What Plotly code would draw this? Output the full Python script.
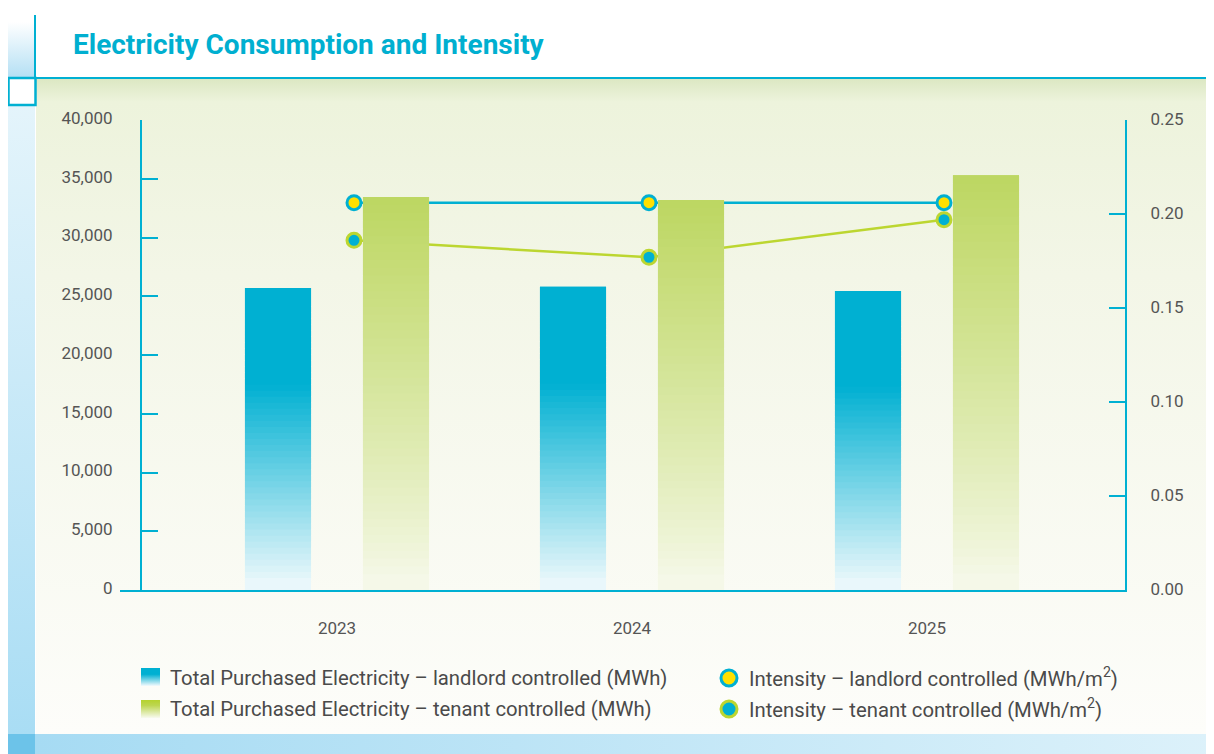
import base64

import plotly.graph_objects as go


# the page puts the figure 8px in from the top-left corner
OFF = 8
W, H = 1214 - OFF, 754 - OFF

years = ["2023", "2024", "2025"]
landlord_mwh = [25700, 25800, 25450]
tenant_mwh = [33450, 33200, 35300]
landlord_intensity = [0.206, 0.206, 0.206]
tenant_intensity = [0.186, 0.177, 0.197]

CYAN = "#00b0d2"
GREEN = "#bcd65f"
LINE_GREEN = "#bcd630"
YELLOW = "#ffe000"
TEXT = "#4a4a4a"
LEVELS = 50


def px(x):
    return (x - OFF) / W


def py(y):
    return 1 - (y - OFF) / H


def hex_rgb(c):
    c = c.lstrip("#")
    return [int(c[i:i + 2], 16) for i in (0, 2, 4)]


def mix(c_low, c_high, s):
    a, b = hex_rgb(c_low), hex_rgb(c_high)
    r = [round(a[i] + (b[i] - a[i]) * s) for i in range(3)]
    return f"rgb({r[0]},{r[1]},{r[2]})"


def gradient_uri(stops, horizontal=False):
    x2, y2 = ("1", "0") if horizontal else ("0", "1")
    stop_tags = "".join(f'<stop offset="{o}" stop-color="{c}"/>' for o, c in stops)
    svg = (
        '<svg xmlns="http://www.w3.org/2000/svg" width="100" height="100" '
        'viewBox="0 0 100 100" preserveAspectRatio="none">'
        f'<defs><linearGradient id="g" x1="0" y1="0" x2="{x2}" y2="{y2}">{stop_tags}'
        '</linearGradient></defs><rect width="100" height="100" fill="url(#g)"/></svg>'
    )
    return "data:image/svg+xml;base64," + base64.b64encode(svg.encode()).decode()


def bg_image(uri, x0, y0, x1, y1):
    return dict(
        source=uri, xref="paper", yref="paper", x=px(x0), y=py(y0),
        sizex=(x1 - x0) / W, sizey=(y1 - y0) / H, sizing="stretch",
        xanchor="left", yanchor="top", layer="below",
    )


fig = go.Figure()

# intensity lines (base subplot, drawn under the bars)
fig.add_trace(go.Scatter(
    x=years, y=tenant_intensity, mode="lines+markers",
    line=dict(color=LINE_GREEN, width=2.5),
    marker=dict(size=14, color=CYAN, line=dict(color=LINE_GREEN, width=3)),
    hoverinfo="skip", showlegend=False, xaxis="x", yaxis="y",
))
fig.add_trace(go.Scatter(
    x=years, y=landlord_intensity, mode="lines+markers",
    line=dict(color=CYAN, width=2.5),
    marker=dict(size=14, color=YELLOW, line=dict(color=CYAN, width=3)),
    hoverinfo="skip", showlegend=False, xaxis="x", yaxis="y",
))

# gradient bars: bands drawn from the top down, each one overlapping the band
# above it so no seams show; lighter towards the bottom
for k in range(LEVELS - 1, -1, -1):
    t = (k + 0.5) / LEVELS
    s_land = min(1.0, 0.04 + 1.45 * t)
    s_ten = min(1.0, 0.03 + 0.97 * t ** 0.85)
    bands = 1 if k == LEVELS - 1 else 2
    fig.add_trace(go.Bar(
        x=years, y=[v * bands / LEVELS for v in landlord_mwh],
        base=[v * k / LEVELS for v in landlord_mwh], offsetgroup="landlord",
        marker=dict(color=mix("#f6fbfd", CYAN, s_land), line=dict(width=0)),
        hoverinfo="skip", showlegend=False, xaxis="x2", yaxis="y2",
    ))
    fig.add_trace(go.Bar(
        x=years, y=[v * bands / LEVELS for v in tenant_mwh],
        base=[v * k / LEVELS for v in tenant_mwh], offsetgroup="tenant",
        marker=dict(color=mix("#f8faef", GREEN, s_ten), line=dict(width=0)),
        hoverinfo="skip", showlegend=False, xaxis="x2", yaxis="y2",
    ))

x_lo, x_hi = -0.7356, 2.6712
shift = 0.0576
x_dom = [px(120), px(1125)]
y_dom = [py(590), py(120)]

tick_font = dict(family="Roboto", size=17, color="#555555")
axis_common = dict(
    showgrid=False, zeroline=False, showline=True, linecolor=CYAN, linewidth=2,
    ticks="inside", ticklen=16, tickwidth=2, tickcolor=CYAN, tickfont=tick_font,
)

shapes = [
    dict(type="line", xref="paper", yref="paper", x0=px(35), x1=px(35), y0=py(15), y1=py(78),
         line=dict(color=CYAN, width=2)),
    dict(type="line", xref="paper", yref="paper", x0=px(35), x1=1, y0=py(78), y1=py(78),
         line=dict(color=CYAN, width=2)),
    dict(type="rect", xref="paper", yref="paper", x0=px(8.5), x1=px(35.5), y0=py(105), y1=py(78),
         fillcolor="white", line=dict(color=CYAN, width=2.5), layer="above"),
    dict(type="rect", xref="paper", yref="paper", x0=px(8), x1=px(35), y0=0, y1=py(734),
         fillcolor="#6cc3e9", line=dict(width=0), layer="below"),
    dict(type="circle", xref="paper", yref="paper", x0=px(721), x1=px(737), y0=py(686), y1=py(670),
         fillcolor=YELLOW, line=dict(color=CYAN, width=3)),
    dict(type="circle", xref="paper", yref="paper", x0=px(721), x1=px(737), y0=py(717), y1=py(701),
         fillcolor=CYAN, line=dict(color=LINE_GREEN, width=3)),
]

images = [
    bg_image(gradient_uri([(0, "#dce8c3"), (0.035, "#edf3dc"), (0.3, "#f3f6e7"), (1, "#fdfdfa")]),
             36, 79, 1214, 734),
    bg_image(gradient_uri([(0, "#ffffff"), (0.2, "#ffffff"), (1, "#b3dff4")]), 8, 8, 35, 78),
    bg_image(gradient_uri([(0, "#e4f4fb"), (1, "#a9ddf4")]), 8, 105, 35, 734),
    bg_image(gradient_uri([(0, "#a6dbf3"), (1, "#dcf1fa")], horizontal=True), 35, 734, 1214, 754),
    bg_image(gradient_uri([(0, CYAN), (0.35, CYAN), (1, "#f4fafd")]), 141, 668, 160, 686),
    bg_image(gradient_uri([(0, "#b5d22e"), (0.3, "#bdd650"), (1, "#f8faef")]), 141, 700, 160, 718),
]

legend_font = dict(family="Roboto", size=20.3, color=TEXT)
annotations = [
    dict(text="<b>Electricity Consumption and Intensity</b>", xref="paper", yref="paper",
         x=px(71), y=py(44), xanchor="left", yanchor="middle", showarrow=False,
         font=dict(family="Roboto", size=28, color="#00afd0")),
    dict(text="Total Purchased Electricity – landlord controlled (MWh)", xref="paper", yref="paper",
         x=px(168), y=py(678), xanchor="left", yanchor="middle", showarrow=False, font=legend_font),
    dict(text="Total Purchased Electricity – tenant controlled (MWh)", xref="paper", yref="paper",
         x=px(168), y=py(709), xanchor="left", yanchor="middle", showarrow=False, font=legend_font),
    dict(text="Intensity – landlord controlled (MWh/m<sup>2</sup>)", xref="paper", yref="paper",
         x=px(747), y=py(677), xanchor="left", yanchor="middle", showarrow=False, font=legend_font),
    dict(text="Intensity – tenant controlled (MWh/m<sup>2</sup>)", xref="paper", yref="paper",
         x=px(747), y=py(708), xanchor="left", yanchor="middle", showarrow=False, font=legend_font),
]

fig.update_layout(
    width=W, height=H,
    margin=dict(l=0, r=0, t=0, b=0),
    paper_bgcolor="white", plot_bgcolor="rgba(0,0,0,0)",
    font=dict(family="Roboto", color=TEXT),
    barmode="group", bargap=0.2, bargroupgap=0.44,
    showlegend=False,
    xaxis=dict(
        domain=x_dom, type="category", range=[x_lo - shift, x_hi - shift], anchor="y",
        showgrid=False, zeroline=False, showline=True, linecolor=CYAN, linewidth=2,
        ticks="", showticklabels=False, automargin=False,
    ),
    yaxis=dict(
        domain=y_dom, range=[0, 0.25], dtick=0.05, tickformat=".2f", side="right", anchor="x",
        ticklabelstandoff=20, ticklabelshift=-1, automargin=False, **axis_common,
    ),
    xaxis2=dict(
        overlaying="x", type="category", range=[x_lo, x_hi], anchor="y2",
        showgrid=False, zeroline=False, showline=False, ticks="",
        tickfont=tick_font, ticklabelstandoff=26, automargin=False,
    ),
    yaxis2=dict(
        overlaying="y", range=[0, 40000], dtick=5000, tickformat=",", side="left",
        anchor="free", position=px(141), ticklabelstandoff=24, ticklabelshift=-2,
        automargin=False, **axis_common,
    ),
    shapes=shapes, images=images, annotations=annotations,
)

fig.write_html("out.html")
